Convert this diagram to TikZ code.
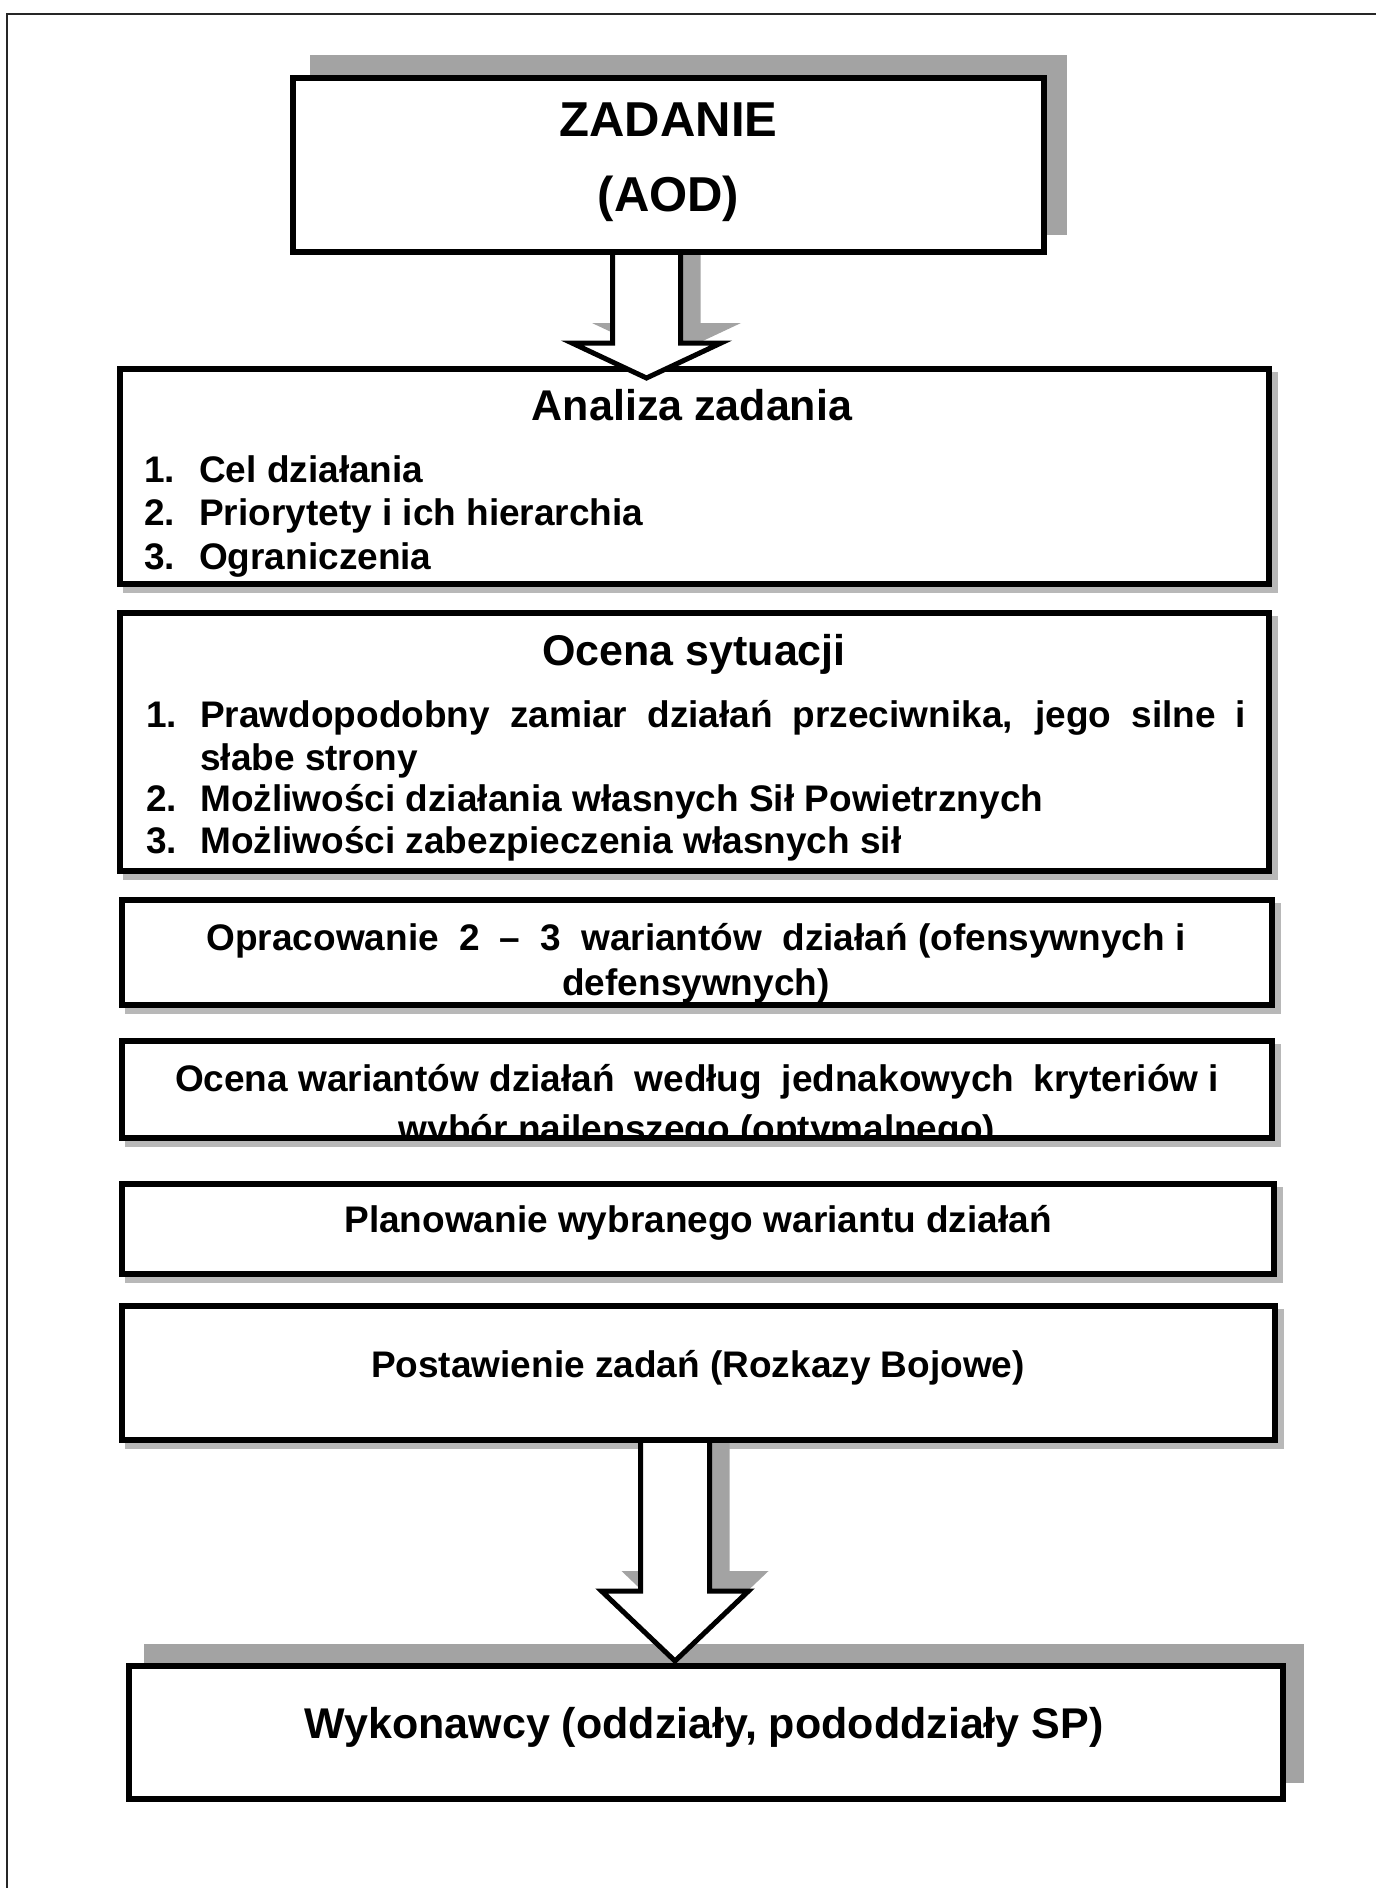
\documentclass[tikz,border=0pt]{standalone}
\usepackage{fontspec}
\setmainfont{Liberation Sans}
\usetikzlibrary{calc}

\pgfdeclarelayer{paper}
\pgfdeclarelayer{shade}
\pgfdeclarelayer{arrows}
\pgfsetlayers{paper,shade,main,arrows}

\tikzset{
  panel/.style={draw=black, line width=6pt, fill=white, rectangle, inner sep=0pt},
  bigshade/.style={fill=black!36},
  thinshade/.style={fill=black!28},
  arrowbody/.style={draw=black, line width=5pt, line join=miter},
  frameline/.style={draw=black!85, line width=2.5pt},
  heading/.style={inner sep=0pt, anchor=base, font=\bfseries\fontsize{43}{50}\selectfont},
  body/.style={inner sep=0pt, anchor=base, font=\bfseries\fontsize{37}{44}\selectfont},
  item/.style={body, anchor=base west},
  bigtext/.style={inner sep=0pt, anchor=base, font=\bfseries\fontsize{49}{56}\selectfont},
}

% panel given by the centre lines of its border: name, x1, y1, x2, y2
\newcommand\panelbox[5]{%
  \pgfmathsetmacro\pw{#4-#2}\pgfmathsetmacro\ph{#5-#3}%
  \node[panel, minimum width=\pw pt, minimum height=\ph pt] (#1) at ({(#2+#4)/2},{(#3+#5)/2}) {};}

% inner clip region of a panel
\newcommand\clipinside[1]{\clip ($(#1.north west)+(6,6)$) rectangle ($(#1.south east)+(-6,-6)$);}

% hollow block arrow with its shadow: start, tip, shaft half-width, head half-width, head length
\newcommand\blockarrow[5]{%
  \begin{pgfonlayer}{shade}
    \fill[bigshade, transform canvas={shift={(20pt,20pt)}}]
      ($(#1)+(-#3,8)$) -- ($(#2)+(-#3,-#5)$) -- ($(#2)+(-#4,-#5)$) -- (#2)
      -- ($(#2)+(#4,-#5)$) -- ($(#2)+(#3,-#5)$) -- ($(#1)+(#3,8)$) -- cycle;
  \end{pgfonlayer}
  \begin{pgfonlayer}{arrows}
    \fill[white]
      ($(#1)+(-#3,0)$) -- ($(#2)+(-#3,-#5)$) -- ($(#2)+(-#4,-#5)$) -- (#2)
      -- ($(#2)+(#4,-#5)$) -- ($(#2)+(#3,-#5)$) -- ($(#1)+(#3,0)$) -- cycle;
    \draw[arrowbody]
      ($(#1)+(-#3,0)$) -- ($(#2)+(-#3,-#5)$) -- ($(#2)+(-#4,-#5)$) -- (#2)
      -- ($(#2)+(#4,-#5)$) -- ($(#2)+(#3,-#5)$) -- ($(#1)+(#3,0)$);
  \end{pgfonlayer}}

\begin{document}
\begin{tikzpicture}[x=1pt,y=-1pt]
\useasboundingbox (0,0) rectangle (1376,1888);
\begin{pgfonlayer}{paper}
  \fill[white] (0,0) rectangle (1376,1888);
  \draw[frameline] (1376,14) -- (7,14) -- (7,1888);
\end{pgfonlayer}

% panels
\panelbox{task}{293}{78}{1044}{252}
\panelbox{analysis}{120}{369}{1269}{584}
\panelbox{assess}{120}{613}{1269}{871}
\panelbox{options}{122}{900}{1272}{1005}
\panelbox{compare}{122}{1041}{1272}{1138}
\panelbox{plan}{122}{1184}{1274}{1274}
\panelbox{orders}{122}{1306}{1275}{1440}
\panelbox{units}{129}{1666}{1283}{1799}

% panel shadows
\begin{pgfonlayer}{shade}
  \fill[bigshade] ($(task.north west)+(20,-20)$) rectangle ($(task.south east)+(20,-20)$);
  \foreach \p in {analysis,assess,options,compare,plan,orders}
    \fill[thinshade] ($(\p.north west)+(6,6)$) rectangle ($(\p.south east)+(6,6)$);
  \fill[bigshade] ($(units.north west)+(18,-19)$) rectangle ($(units.south east)+(18,-19)$);
\end{pgfonlayer}

% arrows
\coordinate (axisA) at (646.5,0);
\coordinate (axisB) at (675,0);
\coordinate (fromA) at (axisA |- task.south);
\coordinate (toA) at ($(axisA |- analysis.north)+(0,12)$);
\coordinate (fromB) at (axisB |- orders.south);
\coordinate (toB) at ($(axisB |- units.north)+(0,-2)$);
\blockarrow{fromA}{toA}{34}{74.5}{35}
\blockarrow{fromB}{toB}{34.5}{73.5}{70}

% texts
\begin{scope}
  \clipinside{task}
  \node[bigtext] (taskA) at (668.5,136) {ZADANIE};
  \node[bigtext] (taskB) at (668.5,211) {(AOD)};
\end{scope}

\begin{scope}
  \clipinside{analysis}
  \node[heading] (analysisT) at (692,420) {Analiza zadania};
  \node[item] (analysis1) at (144,482) {\makebox[55pt][l]{1.}Cel działania};
  \node[item] (analysis2) at (144,525) {\makebox[55pt][l]{2.}Priorytety i ich hierarchia};
  \node[item] (analysis3) at (144,569) {\makebox[55pt][l]{3.}Ograniczenia};
\end{scope}

\begin{scope}
  \clipinside{assess}
  \node[heading] (assessT) at (694,665) {Ocena sytuacji};
  \node[item] (assess1) at (146,727) {\makebox[54pt][l]{1.}\makebox[1046pt][s]{Prawdopodobny zamiar działań przeciwnika, jego silne i}};
  \node[item] (assess1b) at (200,770) {słabe strony};
  \node[item] (assess2) at (146,811) {\makebox[54pt][l]{2.}Możliwości działania własnych Sił Powietrznych};
  \node[item] (assess3) at (146,853) {\makebox[54pt][l]{3.}Możliwości zabezpieczenia własnych sił};
\end{scope}

\begin{scope}
  \clipinside{options}
  \node[body] (options1) at (696,950) {\makebox[979pt]{Opracowanie\hfill{} 2\hfill{} –\hfill{} 3\hfill{} wariantów\hfill{} działań (ofensywnych i}};
  \node[body] (options2) at (696,995) {defensywnych)};
\end{scope}

\begin{scope}
  \clipinside{compare}
  \node[body] (compare1) at (697,1091) {\makebox[1044pt]{Ocena wariantów działań\hfill{} według\hfill{} jednakowych\hfill{} kryteriów i}};
  \node[body] (compare2) at (697,1141) {wybór najlepszego (optymalnego)};
\end{scope}

\node[body] (planT) at (698,1232) {Planowanie wybranego wariantu działań};
\node[body] (ordersT) at (698,1377) {Postawienie zadań (Rozkazy Bojowe)};
\node[heading] (unitsT) at (704,1738) {Wykonawcy (oddziały, pododdziały SP)};
\end{tikzpicture}
\end{document}
